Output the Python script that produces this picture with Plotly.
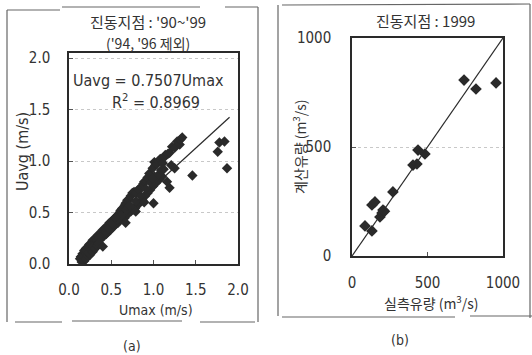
import plotly.graph_objects as go

# ---- data (a): Umax vs Uavg ----
umax = [0.14,0.16,0.18,0.20,0.22,0.24,0.26,0.28,0.30,0.32,0.34,0.36,0.38,0.40,0.42,0.44,0.46,0.48,
        0.50,0.52,0.54,0.56,0.58,0.60,0.61,0.63,0.66,0.67,0.69,0.71,0.73,0.75,0.77,0.80,0.82,0.84,
        0.86,0.88,0.89,0.91,0.93,0.95,0.96,0.99,1.01,1.02,1.04,1.06,1.08,1.11,1.13,1.14,1.17,1.19,
        1.22,1.25,1.28,1.31,1.32,1.34,
        0.16,0.19,0.21,0.24,0.27,0.30,0.33,0.36,0.38,0.41,0.44,0.46,0.49,0.52,0.55,0.58,0.61,0.64,
        0.66,0.70,0.73,0.76,0.78,0.81,0.84,0.87,0.90,0.93,0.96,1.00,1.03,1.07,1.10,1.01,
        0.25,0.31,0.37,0.43,0.47,0.51,0.57,0.62,0.68,0.72,0.79,0.85,0.91,0.97,1.05,1.12,1.09,0.99,
        0.55,0.35,
        0.13,0.15,0.17,0.18,0.19,0.20,0.21,0.22,0.23,0.25,0.26,0.28,0.29,0.31,0.33,0.35,
        0.40,0.67,0.79,0.89,1.00,1.16,1.19,1.21,1.25,1.46,1.76,1.78,1.84,1.87]
uavg = [0.07,0.10,0.13,0.15,0.16,0.19,0.20,0.23,0.24,0.25,0.28,0.29,0.30,0.33,0.34,0.35,0.38,0.40,
        0.41,0.43,0.43,0.46,0.48,0.50,0.52,0.54,0.57,0.59,0.62,0.63,0.66,0.69,0.70,0.69,0.72,0.74,
        0.74,0.78,0.80,0.81,0.84,0.88,0.86,0.93,0.99,0.96,0.97,1.00,1.02,0.98,1.04,1.06,1.07,1.08,
        1.14,1.13,1.19,1.16,1.21,1.23,
        0.04,0.06,0.09,0.12,0.15,0.18,0.21,0.23,0.25,0.27,0.29,0.31,0.33,0.36,0.38,0.40,0.43,0.45,
        0.45,0.49,0.51,0.53,0.54,0.57,0.60,0.62,0.66,0.69,0.72,0.76,0.79,0.82,0.85,0.85,
        0.17,0.21,0.26,0.31,0.35,0.39,0.43,0.47,0.53,0.57,0.61,0.66,0.73,0.79,0.86,0.92,0.91,0.83,
        0.45,0.25,
        0.05,0.02,0.08,0.03,0.11,0.05,0.13,0.08,0.11,0.09,0.14,0.12,0.17,0.15,0.18,0.20,
        0.17,0.40,0.51,0.60,0.59,0.80,0.74,0.96,0.93,0.86,1.09,1.18,1.19,0.93]
fit_x = [0.1, 1.9]
slope = 0.7507

# ---- data (b): measured vs computed discharge ----
q_obs = [86,132,132,152,185,199,205,215,271,404,430,437,483,742,821,954]
q_cal = [138,115,234,248,179,197,211,205,294,417,422,486,468,807,766,794]
one_x = [0, 1000]

FONT = "Liberation Sans Narrow, DejaVu Sans Condensed, Noto Sans CJK KR, sans-serif"
KFONT = "Noto Sans CJK KR, Liberation Sans Narrow, sans-serif"
INK = "#2a2a2a"

fig = go.Figure()
fig.add_trace(go.Scatter(x=umax, y=uavg, mode="markers", xaxis="x", yaxis="y",
                         marker=dict(symbol="diamond", size=8, color=INK), showlegend=False))
fig.add_trace(go.Scatter(x=fit_x, y=[slope * v for v in fit_x], mode="lines", xaxis="x", yaxis="y",
                         line=dict(color=INK, width=1.2), showlegend=False))
fig.add_trace(go.Scatter(x=q_obs, y=q_cal, mode="markers", xaxis="x2", yaxis="y2",
                         marker=dict(symbol="diamond", size=9, color=INK), showlegend=False))
fig.add_trace(go.Scatter(x=one_x, y=one_x, mode="lines", xaxis="x2", yaxis="y2",
                         line=dict(color=INK, width=1.2), showlegend=False))

ax_common = dict(showline=True, linecolor=INK, linewidth=1.5, mirror=True, zeroline=False,
                 ticks="inside", ticklen=4, tickcolor="#555", automargin=False,
                 tickfont=dict(family=FONT, size=15, color="#333"))

fig.update_layout(
    template="none",
    width=532, height=355, margin=dict(l=0, r=0, t=0, b=0, pad=0),
    paper_bgcolor="white", plot_bgcolor="white",
    font=dict(family=FONT, color="#333"),
    xaxis=dict(domain=[69/532, 238/532], range=[0, 2.0], tickvals=[0, 0.5, 1.0, 1.5, 2.0],
               ticktext=["0.0", "0.5", "1.0", "1.5", "2.0"], showgrid=False,
               ticklabelstandoff=11, anchor="y", **ax_common),
    yaxis=dict(domain=[1-264/355, 1-53/355], range=[0, 2.05], tickvals=[0, 0.5, 1.0, 1.5, 2.0],
               ticktext=["0.0", "0.5", "1.0", "1.5", "2.0"], showgrid=True, gridcolor="#c8c8c8",
               griddash="dot", gridwidth=1, ticklabelstandoff=14, anchor="x", **ax_common),
    xaxis2=dict(domain=[352/532, 503/532], range=[0, 1000], tickvals=[0, 500, 1000],
                showgrid=False, ticklabelstandoff=12, anchor="y2", **ax_common),
    yaxis2=dict(domain=[1-256/355, 1-38/355], range=[0, 1000], tickvals=[0, 500, 1000],
                showgrid=True, gridcolor="#c8c8c8", griddash="dot", gridwidth=1,
                ticklabelstandoff=16, anchor="x2", **ax_common),
)

def txt(x, y, s, size=14, angle=0, family=FONT):
    fig.add_annotation(x=x/532, y=1-y/355, xref="paper", yref="paper", text=s, showarrow=False,
                       textangle=angle, font=dict(family=family, size=size, color="#333"),
                       xanchor="center", yanchor="middle")

txt(148, 21, "진동지점 : '90~'99", 15, family=KFONT)
txt(148, 43, "('94, '96 제외)", 14, family=KFONT)
txt(148, 80, "Uavg = 0.7507Umax", 16)
txt(156, 101, "R<sup>2</sup> = 0.8969", 16)
txt(22, 152, "Uavg (m/s)", 16, angle=-90)
txt(156, 310, "Umax (m/s)", 14)
txt(132, 346, "(a)", 14)

txt(425, 20, "진동지점 : 1999", 15, family=KFONT)
txt(299, 147, "계산유량 (m<sup>3</sup>/s)", 14, angle=-90, family=KFONT)
txt(431, 302, "실측유량 (m<sup>3</sup>/s)", 14, family=KFONT)
txt(400, 340, "(b)", 14)

# outer frames around each panel
def seg(x0, y0, x1, y1):
    fig.add_shape(type="line", xref="paper", yref="paper", x0=x0/532, y0=1-y0/355,
                  x1=x1/532, y1=1-y1/355, line=dict(color="#666", width=1.2))

seg(7, 10, 60, 10); seg(62, 7, 200, 7); seg(225, 7, 258, 7)
seg(7, 10, 7, 322); seg(258, 7, 258, 322)
seg(15, 322, 62, 322); seg(72, 321, 182, 321); seg(200, 322, 255, 322)
seg(278, 5, 278, 316); seg(282, 5, 530, 4); seg(530, 4, 530, 318)
seg(282, 317, 455, 317); seg(470, 316, 532, 316)

fig.write_html("out.html", config={"displayModeBar": False},
               post_script="document.body.style.margin='0px';")
